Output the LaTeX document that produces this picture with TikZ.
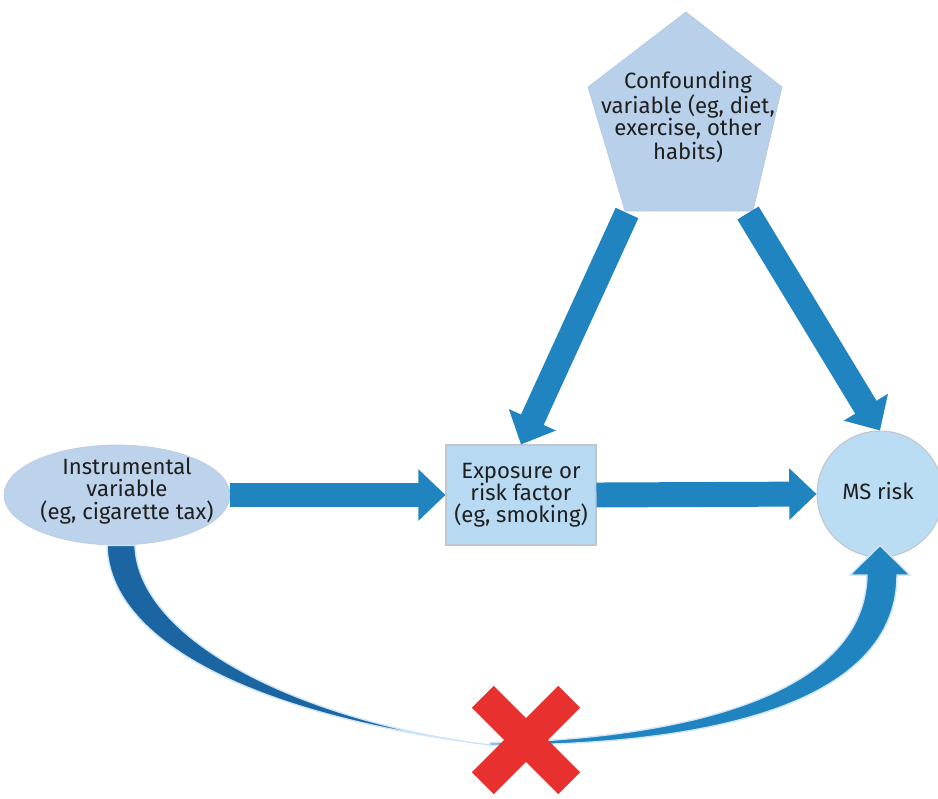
\documentclass[tikz,border=0pt]{standalone}
\usepackage{fontspec}
\setmainfont{Fira Sans}
\usetikzlibrary{arrows.meta,shapes.geometric,calc}
\definecolor{arrowblue}{RGB}{32,132,192}
\definecolor{darkblue}{RGB}{27,102,162}
\definecolor{glow}{RGB}{205,229,247}
\definecolor{pentfill}{RGB}{185,208,234}
\definecolor{ellfill}{RGB}{189,211,236}
\definecolor{rectfill}{RGB}{183,218,242}
\definecolor{circfill}{RGB}{186,221,244}
\definecolor{xred}{RGB}{232,48,46}
\definecolor{edgegray}{RGB}{192,198,206}
\begin{document}
\begin{tikzpicture}[x=0.02cm,y=-0.02cm,
  lbl/.style={align=center, font=\fontsize{12.6}{12.6}\selectfont, text=black!88},
  blockarrow/.style={draw=arrowblue, line width=14.2pt, -{Triangle[width=28.5pt,length=15.5pt]}},
]
\useasboundingbox (0,0) rectangle (938,799);

% confounder pentagon
\coordinate (pt) at (686,12);
\coordinate (pr) at (782,87);
\coordinate (pbr) at (753,211);
\coordinate (pbl) at (625,211);
\coordinate (pl) at (588,87);
\fill[pentfill, draw=pentfill!92!gray, line width=0.4pt] (pt) -- (pr) -- (pbr) -- (pbl) -- (pl) -- cycle;
\node[lbl] (conf) at (688,117) {Confounding\\variable (eg, diet,\\exercise, other\\habits)};

% main nodes
\node[ellipse, fill=ellfill, draw=ellfill!92!gray, line width=0.4pt, minimum width=4.52cm, minimum height=2cm, inner sep=0pt] (ell) at (117,495) {};
\node[lbl] (elltext) at (127,491) {Instrumental\\variable\\(eg, cigarette tax)};
\node[rectangle, fill=rectfill, draw=edgegray, line width=0.6pt, minimum width=3cm, minimum height=2cm, inner sep=0pt, lbl] (rect) at (521,495) {Exposure or\\risk factor\\(eg, smoking)};
\node[circle, fill=circfill, draw=edgegray, line width=0.6pt, minimum size=2.52cm, inner sep=0pt] (ms) at (880,494) {};
\node[lbl] (mstext) at (878,491) {MS risk};

% straight block arrows
\coordinate (a1s) at (627,213);
\coordinate (a2s) at (748,213);
\draw[blockarrow] (ell.east) -- (rect.west);
\draw[blockarrow] (rect.east) -- (ms.west);
\draw[blockarrow] (a1s) -- (rect.north);
\draw[blockarrow] (a2s) -- (ms.north);

% curved arrow from instrument to outcome
\coordinate (cmid) at (490,745);
\fill[darkblue, draw=glow, line width=0.8pt] ($(ell.south)+(-10,0)$) .. controls (109,640) and (250,715) .. (cmid) .. controls (300,721) and (138,640) .. ($(ell.south)+(18,0)$) -- cycle;
\fill[arrowblue, draw=glow, line width=0.8pt] (cmid) .. controls (720,746) and (897,700) .. (897,575) -- (910,575) -- ($(ms.south)+(0,-12)$) -- (850,575) -- (867,575) .. controls (865,690) and (700,738) .. (490,743) -- cycle;

% red cross
\coordinate (xc) at (526,740);
\fill[xred, rotate around={45:(xc)}] ($(xc)+(-61,-15.5)$) rectangle ($(xc)+(61,15.5)$);
\fill[xred, rotate around={-45:(xc)}] ($(xc)+(-61,-15.5)$) rectangle ($(xc)+(61,15.5)$);
\end{tikzpicture}
\end{document}
